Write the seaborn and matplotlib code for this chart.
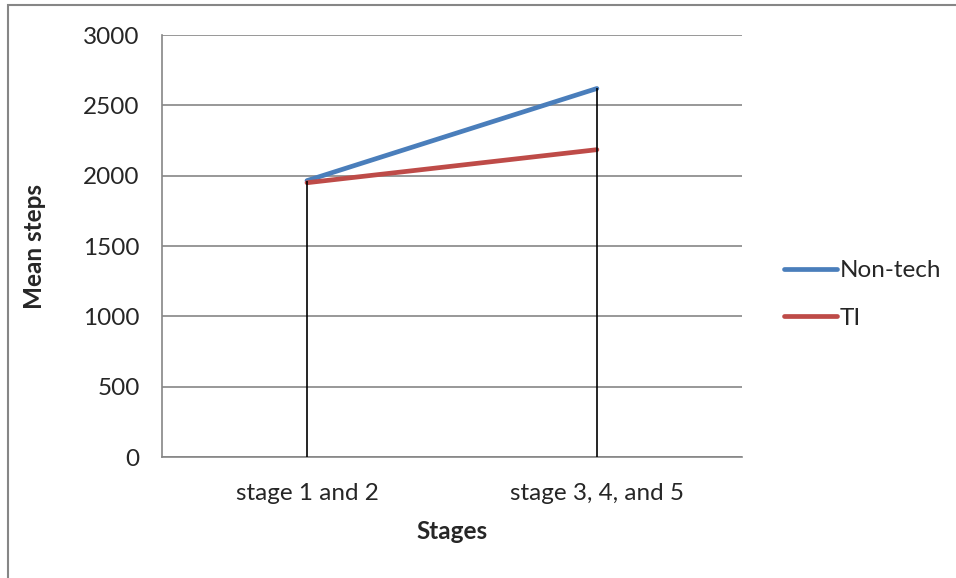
import matplotlib
matplotlib.use("Agg")
import matplotlib.pyplot as plt
import seaborn as sns
import pandas as pd
from matplotlib.patches import Rectangle

stages = ["stage 1 and 2", "stage 3, 4, and 5"]
non_tech = [1965, 2620]
ti = [1950, 2185]
series_names = ["Non-tech", "TI"]
y_ticks = [0, 500, 1000, 1500, 2000, 2500, 3000]

df = pd.DataFrame({
    "stage": stages * 2,
    "pos": [0, 1] * 2,
    "steps": non_tech + ti,
    "group": [series_names[0]] * 2 + [series_names[1]] * 2,
})

sns.set_theme(style="white")
plt.rcParams["font.family"] = ["Lato", "DejaVu Sans"]

FS = 17.5

fig = plt.figure(figsize=(9.56, 5.78), dpi=100)
ax = fig.add_axes([0.1695, 0.2093, 0.6065, 0.7301])

# outer chart frame
fig.patches.append(Rectangle((8 / 956, -0.05), 1.2, 1 - 5 / 578 + 0.05,
                             transform=fig.transFigure, fill=False,
                             edgecolor="#868686", linewidth=1.5, zorder=0))

palette = {"Non-tech": "#4A7EBB", "TI": "#BE4B48"}
sns.lineplot(data=df, x="pos", y="steps", hue="group", palette=palette,
             linewidth=3.4, ax=ax, legend=False, zorder=3,
             solid_capstyle="round")

# drop lines from the highest value of each stage
tops = [max(a, b) for a, b in zip(non_tech, ti)]
ax.vlines([0, 1], 0, tops, colors="black", linewidth=1.2, zorder=4)

ax.set_xlim(-0.5, 1.5)
ax.set_ylim(0, 3000)
ax.set_yticks(y_ticks)
ax.set_xticks([0, 1])
ax.set_xticklabels(stages)
ax.yaxis.grid(True, color="#868686", linewidth=1.2)
ax.xaxis.grid(False)
ax.set_axisbelow(True)

for side in ["top", "right"]:
    ax.spines[side].set_visible(False)
for side in ["left", "bottom"]:
    ax.spines[side].set_color("#868686")
    ax.spines[side].set_linewidth(1.2)

ax.tick_params(axis="y", which="major", direction="out", length=7,
               width=1.2, color="#868686", labelsize=FS, pad=9)
ax.tick_params(axis="x", which="major", length=0, labelsize=FS, pad=19)
ax.set_xlabel("Stages", fontsize=FS, fontweight="bold", labelpad=11)
ax.set_ylabel("Mean steps", fontsize=FS, fontweight="bold", labelpad=27)

handles = [plt.Line2D([], [], color=palette[n], linewidth=3.4,
                      solid_capstyle="round") for n in series_names]
fig.legend(handles, series_names, loc="upper left",
           bbox_to_anchor=(0.797, 0.588), frameon=False, fontsize=FS,
           handlelength=2.2, handletextpad=0.1, labelspacing=1.1)

fig.savefig("out.png", dpi=100)
